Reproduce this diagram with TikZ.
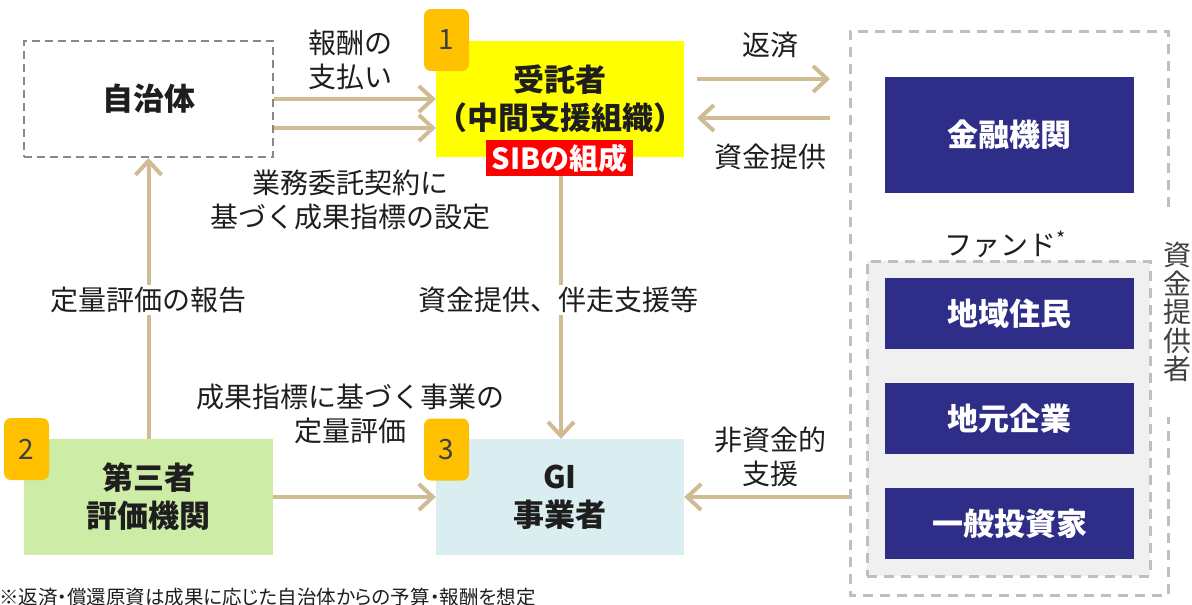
\documentclass[tikz,border=0pt]{standalone}
\usepackage{fontspec}
\setmainfont{Noto Sans CJK JP}
\newfontfamily\paltfont[RawFeature=+palt]{Noto Sans CJK JP}
\usetikzlibrary{arrows.meta}
\definecolor{tanline}{RGB}{208,188,148}
\definecolor{txt}{RGB}{30,30,30}
\definecolor{navy}{RGB}{46,46,136}
\definecolor{badge}{RGB}{255,192,0}
\definecolor{lblue}{RGB}{218,238,242}
\definecolor{lgreen}{RGB}{205,237,166}
\definecolor{dgray}{RGB}{136,136,136}
\definecolor{lgray}{RGB}{191,191,191}
\definecolor{fundfill}{RGB}{240,240,240}
\definecolor{pureyellow}{RGB}{255,255,0}
\tikzset{
  reg/.style={font=\fontsize{28}{34}\selectfont, text=txt, align=center},
  boldlbl/.style={font=\fontsize{31}{38}\selectfont\bfseries, text=txt, align=center},
  bigbox/.style={minimum width=249pt, minimum height=116pt, inner sep=0pt},
  navybox/.style={fill=navy, minimum width=249pt, minimum height=71pt, inner sep=0pt,
     font=\fontsize{31}{38}\selectfont\bfseries, text=white},
  badgebox/.style={fill=badge, rounded corners=7pt, minimum width=45pt, minimum height=62pt,
     inner sep=0pt, font=\fontsize{28}{34}\selectfont, text=black!75},
  arr/.style={draw=tanline, line width=4pt, -{Straight Barb[length=14pt,width=26pt]}},
}
\begin{document}
\begin{tikzpicture}[x=1pt,y=-1pt, every node/.style={inner sep=0pt}]
\useasboundingbox (0,0) rectangle (1192,605);

% outer dashed box of funders
\coordinate (oTR1) at (1168,207);
\coordinate (oTR) at (1168,31);
\coordinate (oTL) at (850,31);
\coordinate (oBL) at (850,595);
\coordinate (oBR) at (1168,595);
\coordinate (oBR1) at (1168,417);
\draw[lgray, line width=3pt, dash pattern=on 10pt off 7pt] (oTR1) -- (oTR) -- (oTL) -- (oBL) -- (oBR) -- (oBR1);

% fund box
\node[fill=fundfill, draw=lgray, line width=3pt, dash pattern=on 10pt off 7pt,
      minimum width=283pt, minimum height=315pt] (fund) at (1008.5,418.5) {};
\node[fill=white, inner xsep=4pt, inner ysep=1pt, reg] (fundlbl) at (1005,244) {ファンド\textsuperscript{*}};

% main boxes
\node[bigbox, draw=dgray, line width=2pt, dash pattern=on 8pt off 5pt, boldlbl] (jichi) at (148.5,99) {自治体};
\node[bigbox, fill=pureyellow, boldlbl, minimum width=248pt] (jutaku) at (560,99) {受託者\\（中間支援組織）};
\node[fill=red, minimum width=147pt, minimum height=36pt, font=\fontsize{29}{34}\selectfont\bfseries, text=white] (sib) at (559.5,158) {SIBの組成};
\node[bigbox, fill=navy, font=\fontsize{31}{38}\selectfont\bfseries, text=white] (kinyu) at (1009.5,135) {金融機関};
\node[navybox] (chiiki) at (1009.5,313.5) {地域住民};
\node[navybox] (jimoto) at (1009.5,418.5) {地元企業};
\node[navybox] (ippan) at (1009.5,523.5) {一般投資家};
\node[bigbox, fill=lgreen, boldlbl] (daisan) at (148.5,497) {第三者\\評価機関};
\node[bigbox, fill=lblue, boldlbl, minimum width=248pt] (gi) at (560,497) {GI\\事業者};

% badges
\node[badgebox] (b1) at (446.5,40) {1};
\node[badgebox] (b2) at (26.5,449) {2};
\node[badgebox] (b3) at (446.5,449.5) {3};

% arrows
\draw[arr] (jichi.east) -- (jutaku.west);
\draw[arr] ([yshift=-29pt]jichi.east) -- ([yshift=-29pt]jutaku.west);
\coordinate (repS) at (697,79);
\coordinate (repE) at (830,79);
\draw[arr] (repS) -- (repE);
\coordinate (fundS) at (830,118);
\coordinate (fundE) at (697,118);
\draw[arr] (fundS) -- (fundE);
\draw[arr] ([xshift=1.5pt]sib.south) -- ([xshift=1pt]gi.north);
\draw[arr] (daisan.north) -- (jichi.south);
\draw[arr] (daisan.east) -- (gi.west);
\coordinate (nonS) at (849,497);
\draw[arr] (nonS) -- (gi.east);

% labels
\node[reg] (l1) at (350,60) {報酬の\\支払い};
\node[reg] (l2) at (770,45) {返済};
\node[reg] (l3) at (770,157) {資金提供};
\node[reg] (l4) at (350,200) {業務委託契約に\\基づく成果指標の設定};
\node[reg, fill=white, inner sep=2pt] (l5) at (148,300) {定量評価の報告};
\node[reg, fill=white, inner sep=2pt] (l6) at (558,300) {資金提供、伴走支援等};
\node[reg] (l7) at (350,414) {成果指標に基づく事業の\\定量評価};
\node[reg] (l8) at (770,457) {非資金的\\支援};
\node[font=\fontsize{28}{28.5}\selectfont, text=txt!85, align=center] (l9) at (1177,312) {資\\金\\提\\供\\者};
\node[font=\paltfont\fontsize{19.5}{24}\selectfont, text=txt, anchor=west] (foot) at (-1,597) {※返済・償還原資は成果に応じた自治体からの予算・報酬を想定};
\end{tikzpicture}
\end{document}
